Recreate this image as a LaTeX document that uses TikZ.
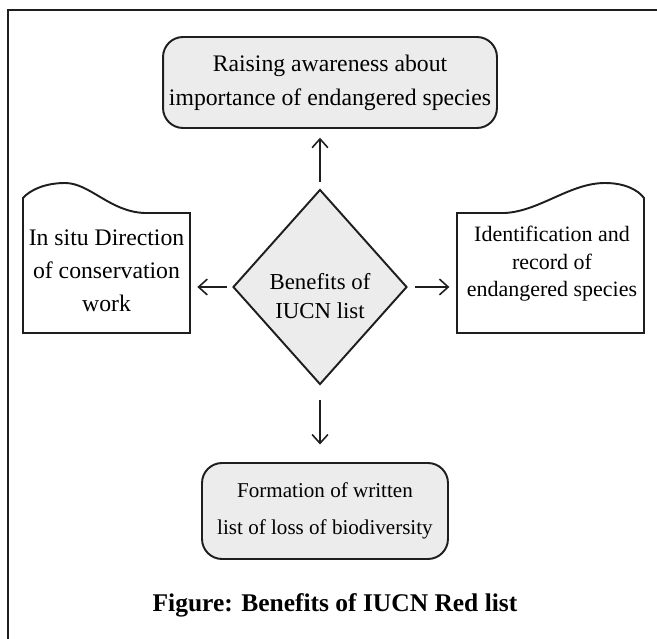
\documentclass[tikz,border=0pt]{standalone}
\usepackage{fontspec}
\setmainfont{Liberation Serif}
\usetikzlibrary{calc,positioning,shapes.geometric,arrows.meta}
\definecolor{boxfill}{RGB}{236,236,236}
\definecolor{boxline}{RGB}{30,30,30}

\begin{document}
\begin{tikzpicture}[x=0.02cm, y=-0.02cm,
  roundbox/.style={draw=boxline, line width=1.1pt, fill=boxfill, rounded corners=0.4cm,
    align=center, inner sep=0pt},
  benefit/.style={draw=boxline, line width=1.1pt, fill=boxfill, diamond, inner sep=0pt,
    minimum width=3.48cm, minimum height=3.9cm},
  flagtext/.style={inner sep=0pt, align=center, minimum width=3.34cm, minimum height=2.4cm},
  arr/.style={-{Straight Barb[length=5pt,width=9pt]}, line width=0.9pt, boxline}]
% Pixel grid of the 657x639 figure, y pointing down.
\useasboundingbox (0,0) rectangle (657,639);
% Frame (only top and left edges show)
\draw[line width=1.3pt, boxline] (8,639) -- (8,10) -- (657,10);
% Centre diamond (text sits a little below its centre) and the two rounded boxes
\node[benefit] (dia) at (320,287) {};
\node[align=center, inner sep=0pt, font=\fontsize{13}{16.5}\selectfont]
  (diatxt) at ([yshift=-0.18cm]dia.center) {Benefits of\\IUCN list};
\node[roundbox, minimum width=6.68cm, minimum height=1.82cm,
  font=\fontsize{13.5}{19.5}\selectfont] (aware) at (330,82.5)
  {Raising awareness about\\importance of endangered species};
\node[roundbox, minimum width=4.92cm, minimum height=1.92cm,
  font=\fontsize{12}{21}\selectfont] (loss) at (325,511)
  {Formation of written\\list of loss of biodiversity};
% Wavy-topped flags: EXPLICIT PATHS, text sits in a plain node
\draw[boxline, line width=1.1pt, fill=white]
  (190,213) -- (145,213) .. controls (110,212) and (90,183) .. (65,183)
  .. controls (45,183) and (30,190) .. (23,198) -- (23,333) -- (190,333) -- cycle;
\draw[boxline, line width=1.1pt, fill=white]
  (457,213) -- (505,213) .. controls (540,211) and (570,183) .. (605,183)
  .. controls (625,183) and (638,190) .. (644,198) -- (644,333) -- (457,333) -- cycle;
\node[flagtext, font=\fontsize{13.5}{18.8}\selectfont] (insitu) at (106.5,271)
  {In situ Direction\\of conservation\\work};
\node[flagtext, minimum width=3.74cm, font=\fontsize{12.5}{15.6}\selectfont] (record) at (552,264)
  {Identification and\\record of\\endangered species};
% Arrows out of the diamond
\draw[arr, shorten <=4pt, shorten >=5pt] (dia.north) -- (dia.north |- aware.south);
\draw[arr, shorten <=8pt, shorten >=10pt] (dia.south) -- (dia.south |- loss.north);
\draw[arr, shorten <=3pt, shorten >=4pt] (dia.west) -- (dia.west -| insitu.east);
\draw[arr, shorten <=4pt, shorten >=5pt] (dia.east) -- (dia.east -| record.west);
% Caption
\node[font=\fontsize{14.5}{18}\selectfont\bfseries] (title) at (335,605)
  {Figure: Benefits of IUCN Red list};
\end{tikzpicture}
\end{document}
